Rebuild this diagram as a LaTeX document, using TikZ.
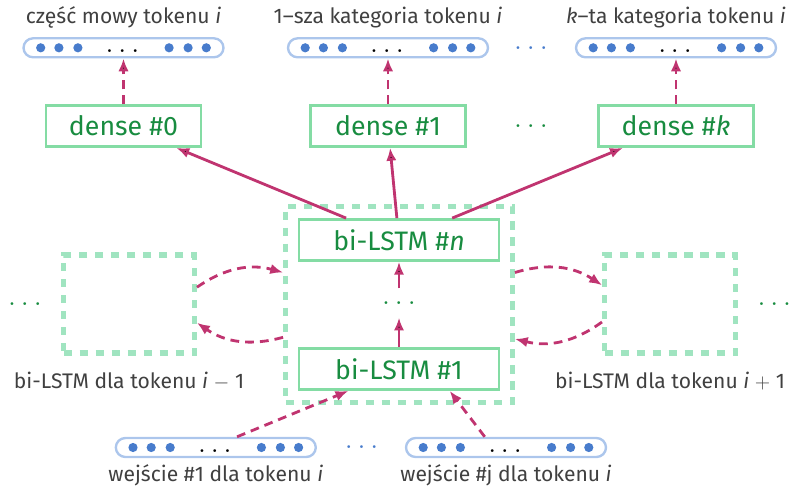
\documentclass[tikz,border=0pt]{standalone}
\usepackage{fontspec}
\setmainfont{Fira Sans}
\usetikzlibrary{positioning,fit,calc,arrows.meta}

\definecolor{lstmgreen}{RGB}{24,140,64}
\definecolor{boxgreen}{RGB}{132,220,164}
\definecolor{dashgreen}{RGB}{160,228,192}
\definecolor{arrowred}{RGB}{192,52,112}
\definecolor{dotblue}{RGB}{72,124,204}
\definecolor{vecblue}{RGB}{172,198,236}
\definecolor{labelgray}{RGB}{64,64,64}

\begin{document}
\begin{tikzpicture}[on grid, node distance=2cm,
    layer/.style={draw=boxgreen, line width=2pt, text=lstmgreen, inner sep=0pt,
      minimum height=1.025cm, font=\fontsize{19}{22}\selectfont},
    token/.style={draw=dashgreen, line width=3.6pt, dash pattern=on 0.21cm off 0.19cm},
    vecbox/.style={draw=vecblue, line width=1.7pt, rounded corners=0.24cm,
      minimum width=5cm, minimum height=0.475cm, inner sep=0pt},
    caption/.style={text=labelgray, font=\fontsize{15}{18}\selectfont},
    gdots/.style={text=lstmgreen, inner sep=0pt, minimum height=0.72cm, font=\fontsize{20}{24}\selectfont},
    bdots/.style={gdots, text=dotblue},
    flow/.style={draw=arrowred, line width=2pt, -{Latex[length=3.2mm,width=2.6mm]}},
    dflow/.style={flow, dash pattern=on 0.22cm off 0.15cm}
  ]
  \useasboundingbox (0,0) rectangle (19.825,12.2);

  % stos warstw dla tokenu i
  \node[layer, minimum width=5cm] (lstm_1) at (9.975,2.975) {bi-LSTM \#1};
  \node[gdots] (mid_dots) [above=1.65cm of lstm_1] {$\ldots$};
  \node[layer, minimum width=5cm] (lstm_n) [above=3.225cm of lstm_1] {bi-LSTM \#\textit{n}};
  \node[token, fit=(lstm_1)(lstm_n), inner sep=0.3cm] (cur) {};

  % sasiednie tokeny
  \node[token, minimum width=3.275cm, minimum height=2.45cm] (prev) at (3.225,4.6) {};
  \node[token, minimum width=3.275cm, minimum height=2.45cm] (next) at (16.75,4.6) {};
  \node[gdots] (left_dots) [left=2.6cm of prev] {$\ldots$};
  \node[gdots] (right_dots) [right=2.61cm of next] {$\ldots$};
  \node[caption] (prev_lbl) [below=1.925cm of prev] {bi-LSTM dla tokenu \textit{i} $-$ 1};
  \node[caption] (next_lbl) [below=1.925cm of next] {bi-LSTM dla tokenu \textit{i} $+$ 1};

  % warstwy dense
  \node[layer, minimum width=3.875cm] (dense_1) at (9.7,9.05) {dense \#1};
  \node[layer, minimum width=3.875cm] (dense_0) [left=6.6125cm of dense_1] {dense \#0};
  \node[layer, minimum width=3.875cm] (dense_k) [right=7.2cm of dense_1] {dense \#\textit{k}};
  \node[gdots] (dense_dots) [right=3.575cm of dense_1] {$\ldots$};

  % wyjscia
  \node[vecbox] (out_0) [above=1.955cm of dense_0] {};
  \node[vecbox] (out_1) [above=1.955cm of dense_1] {};
  \node[vecbox] (out_k) [above=1.955cm of dense_k] {};
  \node[bdots] (out_dots) [right=3.575cm of out_1] {$\ldots$};
  \node[caption] (out_0_lbl) [above=0.76cm of out_0] {część mowy tokenu \textit{i}};
  \node[caption] (out_1_lbl) [above=0.76cm of out_1] {1--sza kategoria tokenu \textit{i}};
  \node[caption] (out_k_lbl) [above=0.76cm of out_k] {\textit{k}--ta kategoria tokenu \textit{i}};

  % wejscia
  \node[vecbox] (in_1) at (5.395,1.0125) {};
  \node[vecbox] (in_j) at (12.65,1.0125) {};
  \node[bdots] (in_dots) at (9.04,1.0125) {$\ldots$};
  \node[caption] (in_1_lbl) [below=0.7cm of in_1] {wejście \#1 dla tokenu \textit{i}};
  \node[caption] (in_j_lbl) [below=0.7cm of in_j] {wejście \#j dla tokenu \textit{i}};

  \foreach \v in {out_0,out_1,out_k,in_1,in_j} {
    \foreach \dx in {-2.07,-1.615,-1.14,1.14,1.615,2.07}
      \fill[dotblue] ($(\v)+(\dx,0)$) circle (0.115);
    \node[inner sep=0pt, font=\fontsize{20}{24}\selectfont] (\v_dots) at ($(\v)+(-0.025,-0.08)$) {$\ldots$};
  }

  \path[flow] (lstm_n) edge (dense_0)
                       edge (dense_1)
                       edge (dense_k)
              (lstm_1) edge (mid_dots)
              (mid_dots) edge (lstm_n);
  \path[dflow] (dense_0) edge (out_0)
               (dense_1) edge (out_1)
               (dense_k) edge (out_k);
  \draw[dflow] ($(in_1.north)!0.21!(in_1.north east)$) -- ($(lstm_1.south)!0.5!(lstm_1.south west)$);
  \draw[dflow] ($(in_j.north)!0.21!(in_j.north west)$) -- ($(lstm_1.south)!0.5!(lstm_1.south east)$);

  \draw[dflow] ([yshift=0.42cm]prev.east) to[bend left=25] ([yshift=0.8cm]cur.west);
  \draw[dflow] ([yshift=-0.82cm]cur.west) to[bend left=25] ([yshift=-0.47cm]prev.east);
  \draw[dflow] ([yshift=0.8cm]cur.east) to[bend left=25] ([yshift=0.47cm]next.west);
  \draw[dflow] ([yshift=-0.45cm]next.west) to[bend left=25] ([yshift=-0.86cm]cur.east);
\end{tikzpicture}
\end{document}
